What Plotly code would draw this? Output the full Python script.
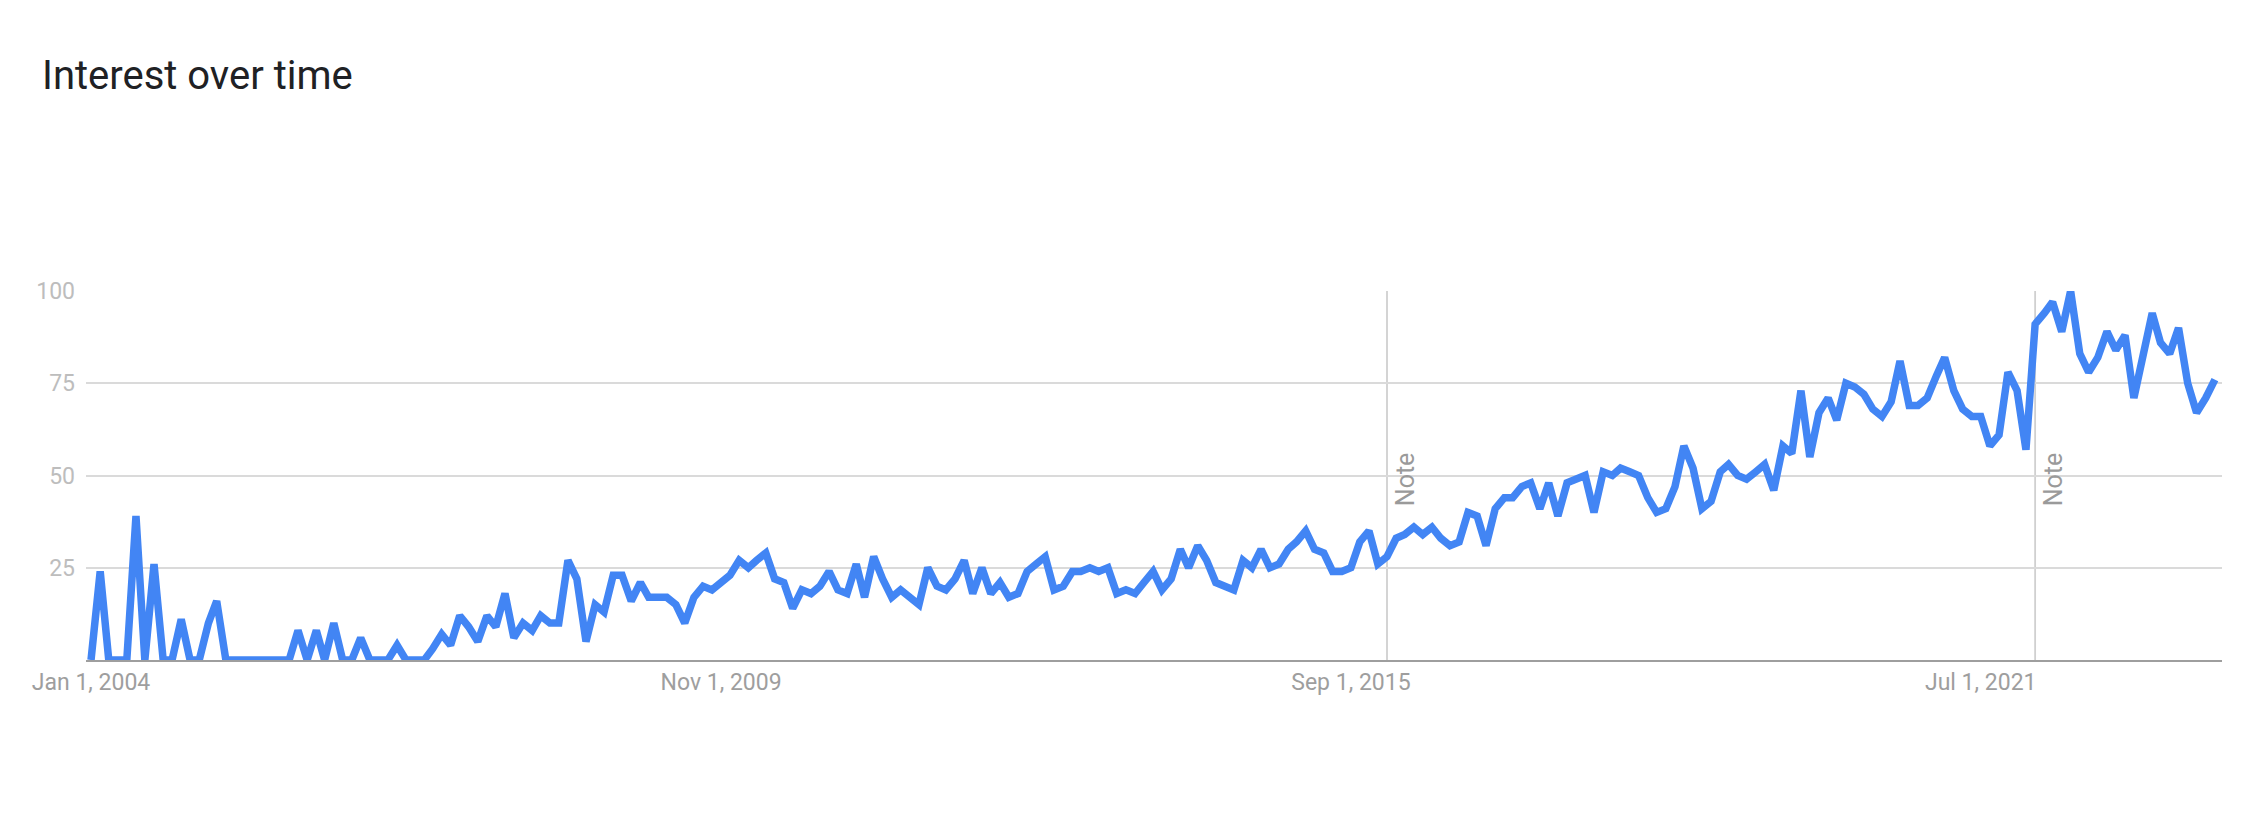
import pandas as pd
import plotly.graph_objects as go

# Monthly search interest (Google Trends style), Jan 2004 .. Sep 2023
y2004 = [0, 24, 0, 0, 0, 39, 0, 26, 0, 0, 11, 0]
y2005 = [0, 10, 16, 0, 0, 0, 0, 0, 0, 0, 0, 8]
y2006 = [0, 8, 0, 10, 0, 0, 6, 0, 0, 0, 4, 0]
y2007 = [0, 0, 3, 7, 4, 12, 9, 5, 12, 9, 18, 6]
y2008 = [10, 8, 12, 10, 10, 27, 22, 5, 15, 13, 23, 23]
y2009 = [16, 21, 17, 17, 17, 15, 10, 17, 20, 19, 21, 23]
y2010 = [27, 25, 27, 29, 22, 21, 14, 19, 18, 20, 24, 19]
y2011 = [18, 26, 17, 28, 22, 17, 19, 17, 15, 25, 20, 19]
y2012 = [22, 27, 18, 25, 18, 21, 17, 18, 24, 26, 28, 19]
y2013 = [20, 24, 24, 25, 24, 25, 18, 19, 18, 21, 24, 19]
y2014 = [22, 30, 25, 31, 27, 21, 20, 19, 27, 25, 30, 25]
y2015 = [26, 30, 32, 35, 30, 29, 24, 24, 25, 32, 35, 26]
y2016 = [28, 33, 34, 36, 34, 36, 33, 31, 32, 40, 39, 31]
y2017 = [41, 44, 44, 47, 48, 41, 48, 39, 48, 49, 50, 40]
y2018 = [51, 50, 52, 51, 50, 44, 40, 41, 47, 58, 52, 41]
y2019 = [43, 51, 53, 50, 49, 51, 53, 46, 58, 56, 73, 55]
y2020 = [67, 71, 65, 75, 74, 72, 68, 66, 70, 81, 69, 69]
y2021 = [71, 77, 82, 73, 68, 66, 66, 58, 61, 78, 73, 57]
y2022 = [91, 94, 97, 89, 100, 83, 78, 82, 89, 84, 88, 71]
y2023 = [82, 94, 86, 83, 90, 75, 67, 71, 76]

interest = (y2004 + y2005 + y2006 + y2007 + y2008 + y2009 + y2010 + y2011
            + y2012 + y2013 + y2014 + y2015 + y2016 + y2017 + y2018 + y2019
            + y2020 + y2021 + y2022 + y2023)
start_month = "2004-01-01"
months = pd.date_range(start_month, periods=len(interest), freq="MS")

x_tick_dates = ["2004-01-01", "2009-11-01", "2015-09-01", "2021-07-01"]
x_tick_labels = ["Jan 1, 2004", "Nov 1, 2009", "Sep 1, 2015", "Jul 1, 2021"]
y_tick_vals = [25, 50, 75, 100]
y_tick_labels = ["25", "50", "75", "100"]
note_dates = ["2016-01-01", "2022-01-01"]
note_label = "Note"
title_text = "Interest over time"

FONT = "Roboto"
W, H = 2256, 810  # page body has an 8px default margin

fig = go.Figure()
fig.add_trace(go.Scatter(
    x=months, y=interest, mode="lines",
    line=dict(color="#4285f4", width=7.5),
    hoverinfo="skip", showlegend=False,
))

for d in note_dates:
    fig.add_shape(type="line", xref="x", yref="y", x0=d, x1=d, y0=0, y1=100,
                  line=dict(color="#d0d0d0", width=1.8), layer="below")
    fig.add_annotation(x=d, y=49, xref="x", yref="y", text=note_label,
                       textangle=-90, showarrow=False, xshift=18,
                       font=dict(family=FONT, size=25, color="#9a9a9a"))

fig.update_layout(
    width=W, height=H,
    margin=dict(l=78, r=42, t=283, b=158),
    paper_bgcolor="white", plot_bgcolor="white",
    font=dict(family=FONT),
    title=dict(text=title_text, xref="container", yref="container",
               x=34 / W, xanchor="left", y=1 - 67 / H, yanchor="middle",
               font=dict(family=FONT, size=40, color="#202124")),
)
fig.update_xaxes(
    type="date", range=["2003-12-15", "2023-09-25"],
    tickmode="array", tickvals=x_tick_dates, ticktext=x_tick_labels,
    showgrid=False, zeroline=False, showline=True, linecolor="#9e9e9e",
    linewidth=2, ticks="", ticklen=0, ticklabelstandoff=0,
    tickfont=dict(family=FONT, size=23, color="#9e9e9e"),
)
fig.update_yaxes(
    range=[0, 100], tickmode="array", tickvals=y_tick_vals, ticktext=y_tick_labels,
    showgrid=True, gridcolor="#dadada", gridwidth=1.5, zeroline=False,
    showline=False, ticks="", ticklen=0, ticklabelstandoff=10,
    tickfont=dict(family=FONT, size=23, color="#bdbdbd"),
)

fig.write_html("out.html")
